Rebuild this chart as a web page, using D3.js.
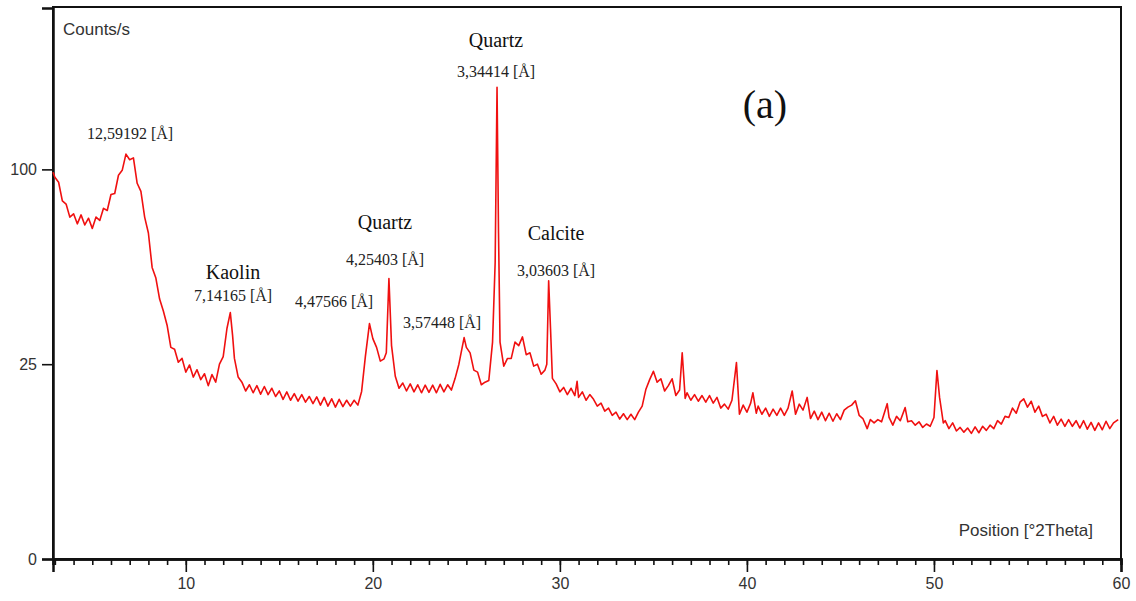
<!DOCTYPE html>
<html>
<head>
<meta charset="utf-8">
<script src="https://cdn.jsdelivr.net/npm/d3@7"></script>
<style>
  body { margin: 0; background: #fff; }
  svg { display: block; }
</style>
</head>
<body>
<svg width="1136" height="601"></svg>
<script>
/*
=============
Data
=============
*/

// position [°2Theta]
var theta = [
    2.9, 3.0, 3.2, 3.4, 3.6, 3.8, 4.0, 4.2, 4.4, 4.6, 4.8,
    5.0, 5.2, 5.4, 5.6, 5.8, 6.0, 6.2, 6.4, 6.6, 6.8,
    7.0, 7.2, 7.4, 7.6, 7.8, 8.0, 8.2, 8.4, 8.6, 8.8,
    9.0, 9.2, 9.4, 9.6, 9.8, 10.0, 10.2, 10.4, 10.6, 10.8,
    11.0, 11.2, 11.4, 11.6, 11.8, 12.0, 12.2, 12.38, 12.5, 12.6, 12.8,
    13.0, 13.2, 13.4, 13.6, 13.8, 14.0, 14.2, 14.4, 14.6, 14.8,
    15.0, 15.2, 15.4, 15.6, 15.8, 16.0, 16.2, 16.4, 16.6, 16.8,
    17.0, 17.2, 17.4, 17.6, 17.8, 18.0, 18.2, 18.4, 18.6, 18.8,
    19.0, 19.2, 19.4, 19.6, 19.82, 20.0, 20.2, 20.4, 20.6, 20.72, 20.86, 21.0,
    21.2, 21.4, 21.6, 21.8, 22.0, 22.2, 22.4, 22.6, 22.8, 23.0,
    23.2, 23.4, 23.6, 23.8, 24.0, 24.2, 24.4, 24.6, 24.88, 25.0, 25.2, 25.4, 25.6, 25.8,
    26.0, 26.2, 26.4, 26.54, 26.64, 26.72, 26.8,
    27.0, 27.2, 27.4, 27.6, 27.8, 28.0, 28.2, 28.4, 28.6, 28.8, 29.0, 29.2, 29.3, 29.4, 29.5, 29.6,
    29.8, 30.0, 30.2, 30.4, 30.6, 30.8, 30.92, 31.0, 31.2, 31.4, 31.6,
    31.8, 32.0, 32.2, 32.4, 32.6, 32.8, 33.0, 33.2, 33.4, 33.6,
    33.8, 34.0, 34.2, 34.4, 34.6, 34.8, 35.0, 35.2, 35.4, 35.6,
    35.8, 36.0, 36.2, 36.4, 36.54, 36.7, 36.8, 37.0, 37.2, 37.4, 37.6,
    37.8, 38.0, 38.2, 38.4, 38.6, 38.8, 39.0, 39.2, 39.44, 39.6,
    39.8, 40.0, 40.2, 40.32, 40.5, 40.6, 40.8, 41.0, 41.2, 41.4, 41.6,
    41.8, 42.0, 42.2, 42.42, 42.6, 42.8, 43.0, 43.22, 43.4, 43.6,
    43.8, 44.0, 44.2, 44.4, 44.6, 44.8, 45.0, 45.2, 45.4, 45.6,
    45.8, 46.0, 46.2, 46.43, 46.6, 46.8, 47.0, 47.2, 47.5, 47.6,
    47.8, 48.0, 48.2, 48.46, 48.6, 48.8, 49.0, 49.2, 49.4, 49.6,
    49.8, 50.0, 50.16, 50.3, 50.5, 50.6, 50.8, 51.0, 51.2, 51.4, 51.6,
    51.8, 52.0, 52.2, 52.4, 52.6, 52.8, 53.0, 53.2, 53.4, 53.6,
    53.8, 54.0, 54.2, 54.4, 54.6, 54.8, 55.0, 55.2, 55.4, 55.6,
    55.8, 56.0, 56.2, 56.4, 56.6, 56.8, 57.0, 57.2, 57.4, 57.6,
    57.8, 58.0, 58.2, 58.4, 58.6, 58.8, 59.0, 59.2, 59.4, 59.6, 59.85
];

// Counts/s
var counts = [
    98.5, 96, 93.5, 84.5, 83, 77, 78.5, 74, 78, 73.5, 76.5,
    72, 77, 75.5, 81, 80, 87.5, 88, 97, 99.5, 108,
    105, 106, 93, 89, 77, 70, 56, 52, 44.5, 40.5,
    36, 29.5, 29, 25.5, 26.5, 23, 24.8, 21.8, 23.6, 21.2,
    22.6, 19.8, 22.4, 20.6, 25, 27, 35, 40, 33, 26.5, 21.8,
    20.6, 18.6, 20.0, 18.2, 19.8, 17.9, 19.6, 17.8, 19.2, 17.4,
    18.6, 16.8, 18.4, 16.6, 18.0, 16.4, 17.8, 16.2, 17.4, 15.9,
    17.3, 15.6, 17.2, 15.4, 16.9, 15.2, 16.8, 15.3, 16.6, 15.4,
    16.6, 15.6, 18.5, 27, 36.5, 32, 29.5, 25.8, 26.4, 28, 51.8, 30,
    22, 19.2, 20.4, 18.6, 20.2, 18.4, 20.0, 18.2, 19.9, 18.3,
    19.9, 18.2, 20.1, 18.4, 20.0, 18.8, 21.5, 25, 32.3, 29.5, 28, 23.5, 23, 20,
    20.6, 21, 31, 58, 146.6, 70, 31,
    24.5, 26.5, 26.5, 31, 30, 32.5, 27.5, 28, 24.5, 25, 22.5, 23.5, 25, 51, 35, 21.5,
    20.2, 18.4, 19.4, 17.8, 19.2, 17.6, 20.8, 17.2, 18.4, 16.6, 17.8,
    16.8, 15.4, 16.0, 14.4, 15.0, 13.6, 14.2, 12.9, 13.9, 12.8,
    13.8, 12.8, 14.2, 15.4, 19, 21.2, 23.2, 20.6, 21.4, 18.6,
    19.8, 21.4, 17.6, 18.8, 28, 17.0, 18.2, 16.6, 17.8, 16.4, 17.6,
    16.2, 17.6, 16.0, 17.2, 15.0, 15.8, 14.8, 16.6, 25.4, 13.8,
    15.6, 14.2, 16.0, 18.2, 14.0, 15.4, 13.8, 15.0, 13.4, 14.8, 13.6,
    15.0, 13.6, 15.0, 18.6, 13.8, 15.8, 14.6, 17.2, 13.0, 14.4,
    12.8, 14.2, 12.6, 14.0, 12.5, 13.9, 12.8, 14.6, 15.2, 15.6,
    16.5, 13.6, 13.0, 11.2, 12.8, 12.2, 12.8, 12.4, 15.9, 13.2,
    11.8, 13.4, 12.6, 15.1, 12.4, 12.6, 11.8, 12.4, 11.4, 12.0,
    11.6, 13.2, 23.4, 17.2, 12.2, 12.6, 11.2, 12.2, 10.8, 11.4, 10.6,
    11.3, 10.4, 11.5, 10.5, 11.6, 10.9, 11.8, 11.2, 12.6, 12.0,
    13.4, 13.2, 15.0, 14.0, 16.2, 16.9, 15.2, 16.4, 14.2, 15.4,
    13.4, 13.8, 12.2, 13.4, 11.8, 12.9, 11.6, 12.8, 11.6, 12.6,
    11.3, 12.6, 11.1, 12.3, 10.9, 12.2, 11.0, 12.5, 11.2, 12.2, 12.8
];

var yTicks = [0, 25, 100];
var xMajor = [10, 20, 30, 40, 50, 60];

// peak labels: phase name (may be empty) and d-spacing text
var peakPhase = ["", "Kaolin", "", "Quartz", "", "Quartz", "Calcite"];
var peakD = ["12,59192 [Å]", "7,14165 [Å]", "4,47566 [Å]", "4,25403 [Å]", "3,57448 [Å]", "3,34414 [Å]", "3,03603 [Å]"];

/*
=============
Chart
=============
*/
window.addEventListener("DOMContentLoaded", function () {
    displayChart();
});

function displayChart() {
    var svg = d3.select("svg");
    var left = 53, right = 1121, top = 8, bottom = 559;

    var x = d3.scaleLinear().domain([2.9, 60]).range([left, right]);
    var y = d3.scaleSqrt().domain([0, 200]).range([bottom, top]);

    var textColor = "#333";
    var sans = "'Liberation Sans', Arial, sans-serif";
    var serif = "'Liberation Serif', 'Times New Roman', serif";

    // frame
    svg.append("rect")
        .attr("x", left)
        .attr("y", top - 1)
        .attr("width", right - left)
        .attr("height", bottom - top + 1)
        .attr("fill", "none")
        .attr("stroke", "#111")
        .attr("stroke-width", 2);

    // minor x ticks, every degree
    var minor = svg.append("g")
        .attr("transform", "translate(0," + bottom + ")")
        .call(d3.axisBottom(x).tickValues(d3.range(3, 61)).tickSize(6).tickFormat(""));

    // major x ticks
    var major = svg.append("g")
        .attr("transform", "translate(0," + bottom + ")")
        .call(d3.axisBottom(x).tickValues(xMajor).tickSize(13).tickPadding(6).tickFormat(d3.format("d")));

    // y axis
    var yAxis = svg.append("g")
        .attr("transform", "translate(" + left + ",0)")
        .call(d3.axisLeft(y).tickValues(yTicks).tickSize(11).tickPadding(5));

    [minor, major, yAxis].forEach(function (g) {
        g.select(".domain").attr("stroke", "#111").attr("stroke-width", 2.5);
        g.selectAll(".tick line").attr("stroke", "#111").attr("stroke-width", 1.6);
        g.selectAll("text")
            .attr("fill", textColor)
            .style("font-family", sans)
            .style("font-size", "16px");
    });
    yAxis.selectAll("text").attr("dy", "0.35em");

    // axis titles
    svg.append("text")
        .attr("x", 63)
        .attr("y", 35)
        .attr("fill", textColor)
        .style("font-family", sans)
        .style("font-size", "17px")
        .text("Counts/s");

    svg.append("text")
        .attr("x", 1093)
        .attr("y", 536)
        .attr("text-anchor", "end")
        .attr("fill", textColor)
        .style("font-family", sans)
        .style("font-size", "17px")
        .text("Position [°2Theta]");

    // pattern
    var pts = theta.map(function (t, i) { return [t, counts[i]]; });
    var line = d3.line()
        .x(function (d) { return x(d[0]); })
        .y(function (d) { return y(d[1]); });

    svg.append("path")
        .datum(pts)
        .attr("d", line)
        .attr("fill", "none")
        .attr("stroke", "#f01010")
        .attr("stroke-width", 1.6)
        .attr("stroke-linejoin", "round");

    // labels (centre x, baseline of phase name, baseline of d value)
    var labelPos = [
        [130, null, 139],
        [233, 279, 301],
        [334, null, 307],
        [385, 229, 265],
        [442, null, 328],
        [496, 47, 77],
        [556, 240, 276]
    ];

    peakD.forEach(function (d, i) {
        var p = labelPos[i];
        if (peakPhase[i]) {
            svg.append("text")
                .attr("x", p[0])
                .attr("y", p[1])
                .attr("text-anchor", "middle")
                .attr("fill", "#111")
                .style("font-family", serif)
                .style("font-size", "20px")
                .text(peakPhase[i]);
        }
        svg.append("text")
            .attr("x", p[0])
            .attr("y", p[2])
            .attr("text-anchor", "middle")
            .attr("fill", "#222")
            .style("font-family", serif)
            .style("font-size", "16px")
            .text(d);
    });

    svg.append("text")
        .attr("x", 765)
        .attr("y", 118)
        .attr("text-anchor", "middle")
        .attr("fill", "#111")
        .style("font-family", serif)
        .style("font-size", "40px")
        .text("(a)");
}
</script>
</body>
</html>
